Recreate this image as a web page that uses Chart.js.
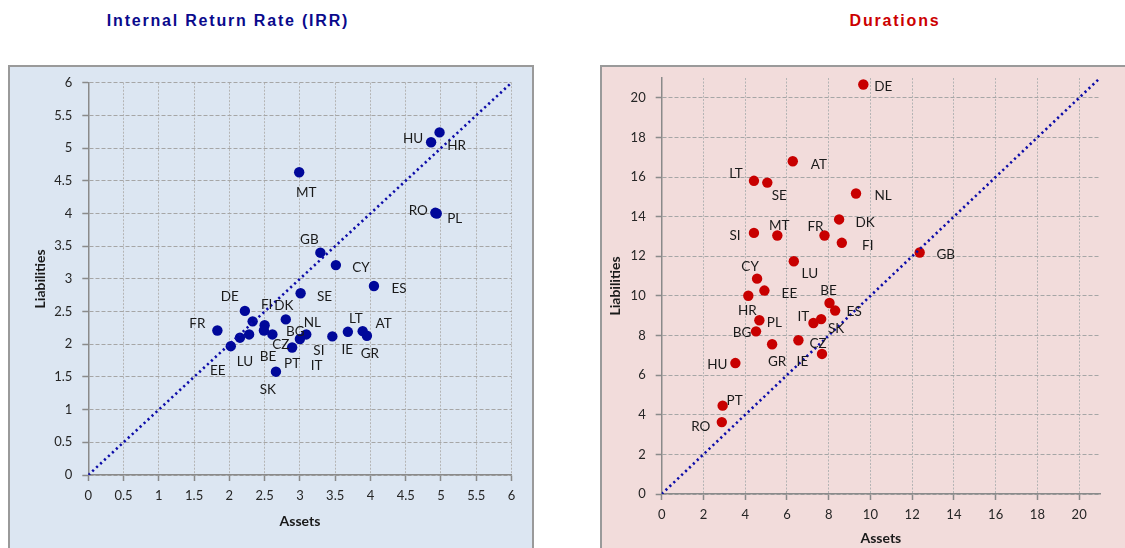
<!DOCTYPE html>
<html><head><meta charset="utf-8">
<script src="https://cdn.jsdelivr.net/npm/chart.js@4.4.1/dist/chart.umd.min.js"></script>
<style>
html,body{margin:0;padding:0;background:#fff;width:1125px;height:548px;overflow:hidden;position:relative;}
.title{position:absolute;top:12px;width:400px;text-align:center;font-family:"Liberation Sans",Arial,sans-serif;font-weight:bold;font-size:16px;letter-spacing:1.8px;white-space:nowrap;}
.panel{position:absolute;box-sizing:border-box;border:2px solid #9a9a9a;}
.wrap{position:absolute;}
</style></head><body>
<div class="title" style="left:28px;color:#0a0a8c">Internal Return Rate (IRR)</div>
<div class="title" style="left:695px;color:#cc0000">Durations</div>
<div class="panel" style="left:8px;top:65px;width:526px;height:500px;background:#dce6f2"></div>
<div class="panel" style="left:600px;top:65px;width:540px;height:500px;background:#f2dcdb"></div>
<div class="wrap" style="left:10px;top:67px;"><canvas id="c1" width="521" height="481"></canvas></div>
<div class="wrap" style="left:602px;top:67px;"><canvas id="c2" width="523" height="481"></canvas></div>
<script>
// ---------- IRR data ----------
const irrCountries = ['HR','HU','MT','RO','PL','GB','CY','ES','SE','DE','DK','FR','SK','FI','IT','CZ','BG','BE','LU','EE','NL','SI','PT','IE','LT','AT','GR'];
const irrAssets      = [4.98,4.86,2.99,4.92,4.94,3.29,3.51,4.05,3.01,2.22,2.80,1.83,2.66,2.33,2.50,2.49,2.61,2.28,2.15,2.02,3.09,3.00,2.89,3.46,3.68,3.89,3.95];
const irrLiabilities = [5.24,5.09,4.63,4.01,4.00,3.40,3.21,2.89,2.78,2.51,2.38,2.21,1.58,2.35,2.29,2.21,2.15,2.15,2.10,1.97,2.15,2.08,1.95,2.12,2.19,2.20,2.13];
const irrDiagonal = [0, 6];
const irrTicks = [0,0.5,1,1.5,2,2.5,3,3.5,4,4.5,5,5.5,6];
const irrTickLabels = ['0','0.5','1','1.5','2','2.5','3','3.5','4','4.5','5','5.5','6'];

// ---------- Durations data ----------
const durCountries = ['DE','AT','LT','SE','NL','DK','SI','MT','FR','FI','GB','LU','CY','EE','HR','BE','ES','PL','IT','SK','BG','GR','IE','CZ','HU','PT','RO'];
const durAssets      = [9.66,6.28,4.42,5.06,9.31,8.50,4.42,5.54,7.80,8.63,12.36,6.33,4.57,4.92,4.15,8.04,8.31,4.68,7.27,7.64,4.52,5.29,6.55,7.68,3.53,2.92,2.88];
const durLiabilities = [20.67,16.80,15.81,15.72,15.17,13.86,13.18,13.05,13.05,12.68,12.19,11.75,10.87,10.27,10.01,9.64,9.26,8.77,8.63,8.83,8.21,7.56,7.76,7.07,6.61,4.46,3.63];
const durDiagonal = [0, 21];
const durTicks = [0,2,4,6,8,10,12,14,16,18,20];
const durTickLabels = ['0','2','4','6','8','10','12','14','16','18','20'];

// ---------- label placement (style, px offsets from point) ----------
const irrLabelOffsets = [[17,13],[-18,-4],[7,20],[-17,-2],[18,5],[-11,-13],[25,3],[25,3],[24,3],[-15,-14],[-2,-14],[-20,-7],[-8,18],[14,-17],[52,40],[17,14],[23,-3],[19,22],[5,24],[-13,24],[6,-12],[19,12],[0,16],[15,13],[8,-13],[21,-8],[3,18]];
const durLabelOffsets = [[20,2],[26,3],[-18,-7],[12,13],[27,2],[26,3],[-19,3],[2,-10],[-9,-9],[26,3],[26,2],[16,12],[-7,-12],[25,3],[-1,15],[-1,-12],[19,1],[15,2],[-10,-6],[15,10],[-14,1],[5,17],[4,21],[-4,-10],[-18,2],[12,-5],[-21,5]];

const pointLabelPlugin = {
  id: 'pointLabels',
  afterDatasetsDraw(chart, args, opts) {
    const meta = chart.getDatasetMeta(1);
    const ctx = chart.ctx;
    ctx.save();
    ctx.font = '13.5px Lato, "Open Sans", sans-serif';
    ctx.fillStyle = '#1a1a1a';
    ctx.textAlign = 'center';
    ctx.textBaseline = 'middle';
    meta.data.forEach((el, i) => {
      const off = opts.offsets[i];
      ctx.fillText(opts.labels[i], el.x + off[0], el.y + off[1]);
    });
    ctx.restore();
  }
};

function makeChart(id, c) {
  const tickFont = {family: 'Lato, "Open Sans", sans-serif', size: 13};
  const titleFont = {family: 'Lato, "Open Sans", sans-serif', size: 14, weight: 'bold'};
  return new Chart(document.getElementById(id), {
    type: 'scatter',
    data: {
      datasets: [
        {
          type: 'line',
          data: c.diag.map(v => ({x: v, y: v})),
          borderColor: '#0c0ca8', borderWidth: 2.6, borderDash: [2.2, 3.2],
          pointRadius: 0, fill: false, order: 0
        },
        {
          data: c.x.map((v, i) => ({x: v, y: c.y[i]})),
          backgroundColor: c.color, borderColor: c.color, borderWidth: 0,
          pointRadius: 5.2, pointHoverRadius: 5.2, order: 1
        }
      ]
    },
    options: {
      responsive: false, animation: false, devicePixelRatio: 1,
      layout: {padding: c.pad, autoPadding: false},
      plugins: {legend: {display: false}, tooltip: {enabled: false},
        pointLabels: {labels: c.labels, offsets: c.offsets}},
      scales: {
        x: {
          type: 'linear', min: 0, max: c.max,
          afterBuildTicks: s => { s.ticks = c.ticks.map(v => ({value: v})); },
          afterFit: s => { s.height = c.xH; s.paddingLeft = 0; s.paddingRight = 0; },
          ticks: {font: tickFont, color: '#262626', padding: 7, maxRotation: 0, autoSkip: false,
            callback: (v, i) => c.tickLabels[i]},
          grid: {color: '#b4b4b4', lineWidth: 1, tickLength: 6, tickColor: '#8a8a8a', tickWidth: 1.5, tickBorderDash: []},
          border: {display: true, color: '#8a8a8a', width: 1.5, dash: [2, 1.5]},
          title: {display: true, text: 'Assets', font: titleFont, color: '#1a1a1a', padding: {top: 0, bottom: c.xTitlePad}}
        },
        y: {
          type: 'linear', min: 0, max: c.max,
          afterBuildTicks: s => { s.ticks = c.ticks.map(v => ({value: v})); },
          afterFit: s => { s.width = c.yW; s.paddingTop = 0; s.paddingBottom = 0; },
          ticks: {font: tickFont, color: '#262626', padding: 10, autoSkip: false,
            callback: (v, i) => c.tickLabels[i]},
          grid: {color: '#a6a6a6', lineWidth: 1, tickLength: 6, tickColor: '#8a8a8a', tickWidth: 1.5, tickBorderDash: []},
          border: {display: true, color: '#8a8a8a', width: 1.5, dash: [4, 2]},
          title: {display: true, text: 'Liabilities', font: titleFont, color: '#1a1a1a', padding: {top: c.yTitlePad, bottom: 0}}
        }
      }
    },
    plugins: [pointLabelPlugin]
  });
}

makeChart('c1', {
  x: irrAssets, y: irrLiabilities, labels: irrCountries, offsets: irrLabelOffsets,
  diag: irrDiagonal, ticks: irrTicks, tickLabels: irrTickLabels, max: 6,
  color: '#00089a',
  pad: {top: 15.7, right: 19.5, left: 0, bottom: 0}, yW: 78.3, xH: 73, yTitlePad: 21.6, xTitlePad: 18.6
});
makeChart('c2', {
  x: durAssets, y: durLiabilities, labels: durCountries, offsets: durLabelOffsets,
  diag: durDiagonal, ticks: durTicks, tickLabels: durTickLabels, max: 21,
  color: '#c80000',
  pad: {top: 11, right: 25, left: 0, bottom: 0}, yW: 59.7, xH: 54, yTitlePad: 4.6, xTitlePad: 1.6
});
</script>
</body></html>
